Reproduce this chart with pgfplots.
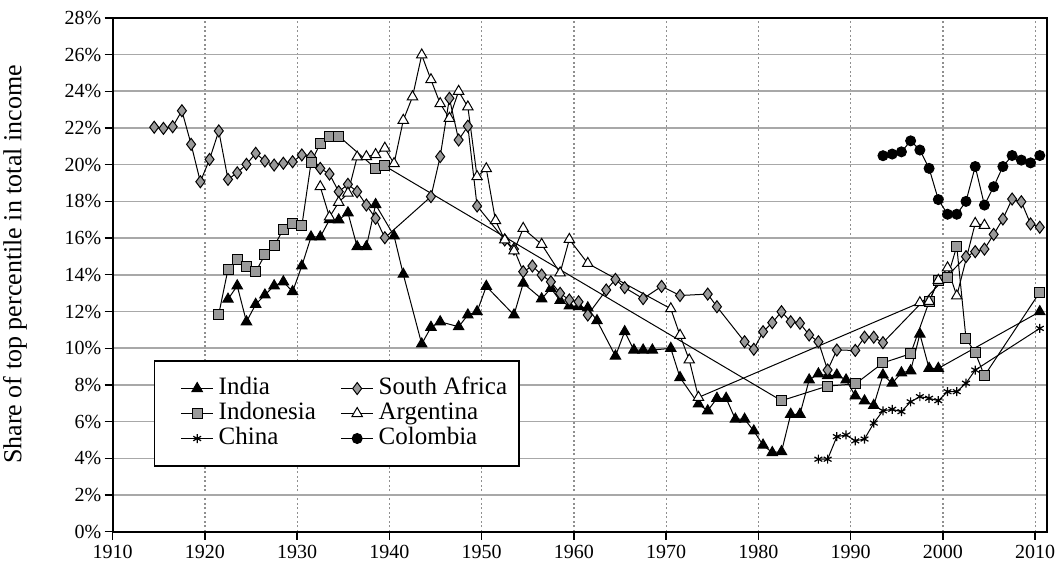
\documentclass[border=0pt]{standalone}
\usepackage{fontspec}
\setmainfont{Liberation Serif}
\usepackage{pgfplots}
\pgfplotsset{compat=1.18}
\definecolor{gridgray}{HTML}{A8A8A8}
\definecolor{mkgray}{HTML}{9A9A9A}
\begin{document}
\begin{tikzpicture}
\begin{axis}[
  name=ax,
  scale only axis,
  width=934pt, height=513.8pt,
  xmin=1909.5, xmax=2010.75,
  ymin=0, ymax=28,
  xtick={1909.5,1919.5,1929.5,1939.5,1949.5,1959.5,1969.5,1979.5,1989.5,1999.5,2009.5},
  xticklabels={1910,1920,1930,1940,1950,1960,1970,1980,1990,2000,2010},
  ytick={0,2,4,6,8,10,12,14,16,18,20,22,24,26,28},
  yticklabels={0\%,2\%,4\%,6\%,8\%,10\%,12\%,14\%,16\%,18\%,20\%,22\%,24\%,26\%,28\%},
  xmajorgrids, ymajorgrids,
  major x grid style={gridgray!85!black, line width=1.2pt, dash pattern=on 2pt off 2.5pt},
  major y grid style={gridgray, line width=1.6pt},
  axis line style={black, line width=1.8pt},
  tick pos=left, tick align=outside, major tick length=8pt,
  tick style={black, line width=1.4pt},
  ticklabel style={font=\fontsize{20}{22}\selectfont},
  xticklabel style={yshift=-2pt},
  ylabel={Share of top percentile in total income},
  ylabel style={font=\fontsize{26}{28}\selectfont, at={(axis description cs:-0.1046,0.52)}, anchor=center},
  legend columns=2,
  legend cell align=left,
  legend image code/.code={\path (-16pt,0pt) (32pt,0pt); \draw[mark repeat=2,mark phase=2,#1] plot coordinates {(0pt,0pt)(16pt,0pt)(32pt,0pt)};},
  legend style={at={(0.0442,0.1265)}, anchor=south west, draw=black, line width=1.4pt, fill=white,
    font=\fontsize{25}{26}\selectfont, inner xsep=10pt, inner ysep=15pt,
    nodes={inner sep=2pt, text height=16pt, text depth=5pt},
    /tikz/every odd column/.append style={column sep=3pt},
    /tikz/every even column/.append style={column sep=4pt}},
  every axis plot/.append style={black, line width=1pt},
]
\addplot[mark=triangle*, mark size=6pt, mark options={fill=black, solid}] coordinates {
(1922,12.67)(1923,13.4)(1924,11.44)(1925,12.39)(1926,12.9)(1927,13.4)(1928,13.62)(1929,13.08)(1930,14.48)
(1931,16.06)(1932,16.06)(1933,17.0)(1934,16.99)(1935,17.38)(1936,15.53)(1937,15.53)(1938,17.83)(1940,16.12)
(1941,14.03)(1943,10.23)(1944,11.14)(1945,11.44)(1947,11.17)(1948,11.81)(1949,11.99)(1950,13.37)(1953,11.81)
(1954,13.54)(1956,12.69)(1957,13.26)(1958,12.6)(1959,12.3)(1960,12.26)(1961,12.2)(1962,11.5)(1964,9.57)
(1965,10.9)(1966,9.9)(1967,9.9)(1968,9.9)(1970,9.99)(1971,8.4)(1973,6.96)(1974,6.59)(1975,7.27)(1976,7.27)
(1977,6.13)(1978,6.13)(1979,5.49)(1980,4.72)(1981,4.31)(1982,4.36)(1983,6.4)(1984,6.4)(1985,8.27)(1986,8.6)
(1987,8.5)(1988,8.54)(1989,8.27)(1990,7.4)(1991,7.13)(1992,6.88)(1993,8.54)(1994,8.09)(1995,8.66)(1996,8.77)
(1997,10.77)(1998,8.9)(1999,8.9)(2010,11.99)};
\addlegendentry{\makebox[100pt][l]{India}}
\addplot[mark=diamond*, mark size=6pt, mark options={fill=mkgray, solid}] coordinates {
(1914,22.04)(1915,21.98)(1916,22.07)(1917,22.94)(1918,21.11)(1919,19.07)(1920,20.29)(1921,21.84)(1922,19.2)
(1923,19.56)(1924,20.02)(1925,20.62)(1926,20.2)(1927,19.98)(1928,20.08)(1929,20.16)(1930,20.53)(1931,20.44)
(1932,19.8)(1933,19.49)(1934,18.53)(1935,18.93)(1936,18.53)(1937,17.8)(1938,17.08)(1939,16.02)(1944,18.26)
(1945,20.44)(1946,23.62)(1947,21.35)(1948,22.1)(1949,17.75)(1952,15.9)(1953,15.4)(1954,14.17)(1955,14.48)
(1956,13.99)(1957,13.62)(1958,12.99)(1959,12.63)(1960,12.53)(1961,11.81)(1963,13.17)(1964,13.75)(1965,13.3)
(1967,12.7)(1969,13.37)(1971,12.87)(1974,12.95)(1975,12.26)(1978,10.35)(1979,9.94)(1980,10.9)(1981,11.39)
(1982,11.99)(1983,11.44)(1984,11.36)(1985,10.72)(1986,10.35)(1987,8.81)(1988,9.9)(1990,9.88)(1991,10.6)
(1992,10.6)(1993,10.3)(2002,14.99)(2003,15.26)(2004,15.4)(2005,16.2)(2006,17.04)(2007,18.13)(2008,17.98)
(2009,16.77)(2010,16.59)};
\addlegendentry{South Africa}
\addplot[mark=square*, mark size=5pt, mark options={fill=mkgray, solid}] coordinates {
(1921,11.86)(1922,14.3)(1923,14.86)(1924,14.44)(1925,14.17)(1926,15.08)(1927,15.57)(1928,16.48)(1929,16.77)
(1930,16.66)(1931,20.1)(1932,21.17)(1933,21.56)(1934,21.56)(1938,19.8)(1939,19.93)(1982,7.14)(1987,7.94)
(1990,8.05)(1993,9.2)(1996,9.7)(1998,12.53)(1999,13.7)(2000,13.86)(2001,15.55)(2002,10.52)(2003,9.76)
(2004,8.5)(2010,13.05)};
\addlegendentry{\makebox[100pt][l]{Indonesia}}
\addplot[mark=triangle*, mark size=6pt, mark options={fill=white, solid}] coordinates {
(1932,18.8)(1933,17.15)(1934,17.95)(1935,18.45)(1936,20.42)(1937,20.44)(1938,20.55)(1939,20.9)(1940,20.06)
(1941,22.42)(1942,23.7)(1943,25.98)(1944,24.63)(1945,23.33)(1946,22.53)(1947,24.0)(1948,23.15)(1949,19.35)
(1950,19.78)(1951,16.95)(1952,15.9)(1953,15.3)(1954,16.53)(1956,15.66)(1958,14.1)(1959,15.93)(1961,14.62)
(1970,12.15)(1971,10.7)(1972,9.36)(1973,7.32)(1997,12.48)(1998,12.55)(1999,13.7)(2000,14.38)(2001,12.85)
(2003,16.8)(2004,16.7)};
\addlegendentry{Argentina}
\addplot[mark=asterisk, mark size=4.5pt, mark options={solid, line width=1.2pt}] coordinates {
(1986,3.95)(1987,3.95)(1988,5.18)(1989,5.27)(1990,4.95)(1991,5.05)(1992,5.92)(1993,6.59)(1994,6.67)(1995,6.54)
(1996,7.08)(1997,7.36)(1998,7.27)(1999,7.14)(2000,7.63)(2001,7.63)(2002,8.09)(2003,8.81)(2010,11.08)};
\addlegendentry{\makebox[100pt][l]{China}}
\addplot[mark=*, mark size=5pt, mark options={fill=black, solid}] coordinates {
(1993,20.49)(1994,20.58)(1995,20.7)(1996,21.3)(1997,20.8)(1998,19.8)(1999,18.1)(2000,17.3)(2001,17.3)
(2002,18.0)(2003,19.9)(2004,17.8)(2005,18.8)(2006,19.9)(2007,20.5)(2008,20.25)(2009,20.1)(2010,20.5)};
\addlegendentry{Colombia}
\end{axis}
\pgfresetboundingbox
\path ([shift={(-112.7pt,-38.3pt)}]ax.south west) rectangle ([shift={(12.3pt,17.9pt)}]ax.north east);
\end{tikzpicture}
\end{document}
